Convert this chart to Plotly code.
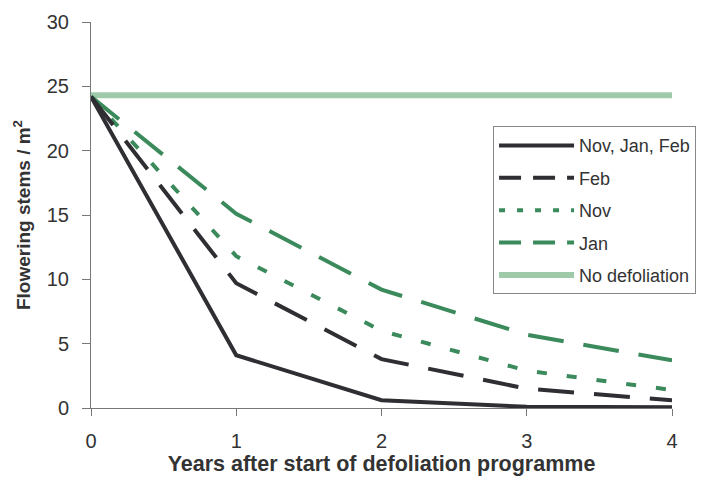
import plotly.graph_objects as go

years = [0, 1, 2, 3, 4]
nov_jan_feb = [24.2, 4.1, 0.6, 0.1, 0.05]
feb = [24.2, 9.7, 3.8, 1.5, 0.6]
nov = [24.2, 11.8, 6.0, 2.9, 1.4]
jan = [24.2, 15.1, 9.2, 5.7, 3.7]
no_defol = [24.3, 24.3, 24.3, 24.3, 24.3]

dark = "#2e2e33"
green = "#3b8a5c"
light = "#9fcaa9"

fig = go.Figure()
fig.add_trace(go.Scatter(x=years, y=no_defol, mode="lines", name="No defoliation",
                         line=dict(color=light, width=6), showlegend=False))
fig.add_trace(go.Scatter(x=years, y=jan, mode="lines", name="Jan",
                         line=dict(color=green, width=4, dash="36px,20px"), showlegend=False))
fig.add_trace(go.Scatter(x=years, y=nov, mode="lines", name="Nov",
                         line=dict(color=green, width=4, dash="10px,20px"), showlegend=False))
fig.add_trace(go.Scatter(x=years, y=feb, mode="lines", name="Feb",
                         line=dict(color=dark, width=4, dash="36px,20px"), showlegend=False))
fig.add_trace(go.Scatter(x=years, y=nov_jan_feb, mode="lines", name="Nov, Jan, Feb",
                         line=dict(color=dark, width=4), showlegend=False))

# legend entries in reference order
for i, (name, col, w, d) in enumerate([("Nov, Jan, Feb", dark, 4, "solid"), ("Feb", dark, 4, "22px,12px"),
                        ("Nov", green, 4, "6px,12px"), ("Jan", green, 4, "22px,12px"),
                        ("No defoliation", light, 6, "solid")]):
    fig.add_trace(go.Scatter(x=[None], y=[None], mode="lines", name=name, legendgroup=f"g{i}",
                             line=dict(color=col, width=w, dash=d)))

fig.update_layout(
    width=704, height=478,
    margin=dict(l=83, r=40, t=14, b=78),
    paper_bgcolor="white", plot_bgcolor="white",
    font=dict(family="Liberation Sans, Arial, sans-serif", size=18, color="#333"),
    showlegend=True,
    legend=dict(x=0.692, y=0.73, xanchor="left", yanchor="top",
                bordercolor="#888", borderwidth=1, bgcolor="white",
                font=dict(size=18, color="#333"), itemwidth=75, tracegroupgap=6,
                traceorder="grouped"),
    xaxis=dict(range=[0, 4], tickvals=years, showline=True, linecolor="#777", linewidth=1,
               ticks="outside", ticklen=7, tickcolor="#777", showgrid=False, zeroline=False,
               automargin=False, ticklabelstandoff=8, tickfont=dict(size=20),
               title=dict(text="<b>Years after start of defoliation programme</b>", standoff=1,
                          font=dict(size=21.5, color="#333"))),
    yaxis=dict(range=[0, 30], tickvals=[0, 5, 10, 15, 20, 25, 30], showline=True,
               linecolor="#777", linewidth=1, ticks="outside", ticklen=8, tickcolor="#777",
               showgrid=False, zeroline=False, automargin=False, ticklabelstandoff=9,
               tickfont=dict(size=20),
               title=dict(text="<b>Flowering stems / m<sup>2</sup></b>", standoff=11,
                          font=dict(size=19, color="#333"))),
)

fig.write_html("out.html")
